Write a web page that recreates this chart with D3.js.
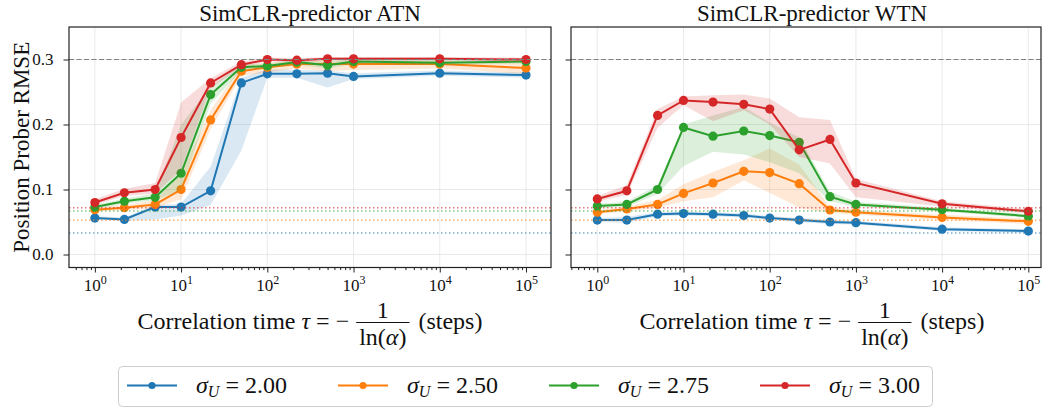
<!DOCTYPE html>
<meta charset="utf-8">
<head>
  <title>Position prober RMSE vs correlation time</title>
</head>
<style>
body { margin: 0; background: #fff; }
svg { display: block; }
</style>
<body>
<svg id="chart" width="1042" height="408"></svg>
<script src="https://cdnjs.cloudflare.com/ajax/libs/d3/7.8.5/d3.min.js"></script>
<script>
// ---- data ----
var tau = [1, 2.2, 5, 10, 22, 50, 100, 220, 500, 1000, 10000, 100000];
var sigmaLabels = ["2.00", "2.50", "2.75", "3.00"];
var colors = ["#1f77b4", "#ff7f0e", "#2ca02c", "#d62728"];
var baselines = [0.033, 0.0527, 0.067, 0.072];
var chanceLevel = 0.3;
var yTicks = [0.0, 0.1, 0.2, 0.3];
var xTicks = [1, 10, 100, 1000, 10000, 100000];

// ATN panel
var atn200   = [0.056, 0.054, 0.073, 0.073, 0.098, 0.264, 0.278, 0.278, 0.279, 0.274, 0.279, 0.276];
var atn200Lo = [0.053, 0.052, 0.054, 0.060, 0.076, 0.160, 0.272, 0.272, 0.257, 0.270, 0.275, 0.272];
var atn200Hi = [0.059, 0.057, 0.076, 0.078, 0.135, 0.272, 0.285, 0.284, 0.283, 0.279, 0.283, 0.280];
var atn250   = [0.069, 0.072, 0.077, 0.100, 0.207, 0.282, 0.288, 0.293, 0.293, 0.293, 0.293, 0.287];
var atn250Lo = [0.066, 0.068, 0.072, 0.085, 0.193, 0.275, 0.280, 0.286, 0.282, 0.284, 0.286, 0.278];
var atn250Hi = [0.073, 0.076, 0.083, 0.125, 0.222, 0.290, 0.295, 0.299, 0.299, 0.299, 0.298, 0.295];
var atn275   = [0.073, 0.082, 0.088, 0.125, 0.246, 0.288, 0.290, 0.296, 0.291, 0.297, 0.295, 0.297];
var atn275Lo = [0.070, 0.078, 0.083, 0.100, 0.232, 0.283, 0.286, 0.292, 0.286, 0.293, 0.291, 0.294];
var atn275Hi = [0.076, 0.086, 0.094, 0.200, 0.258, 0.293, 0.294, 0.300, 0.296, 0.301, 0.299, 0.300];
var atn300   = [0.080, 0.095, 0.100, 0.180, 0.264, 0.292, 0.300, 0.299, 0.301, 0.301, 0.301, 0.300];
var atn300Lo = [0.076, 0.090, 0.094, 0.130, 0.256, 0.288, 0.297, 0.296, 0.298, 0.298, 0.298, 0.297];
var atn300Hi = [0.085, 0.101, 0.110, 0.234, 0.271, 0.297, 0.303, 0.302, 0.304, 0.304, 0.304, 0.303];

// WTN panel
var wtn200   = [0.053, 0.053, 0.062, 0.063, 0.062, 0.060, 0.056, 0.053, 0.050, 0.049, 0.039, 0.036];
var wtn200Lo = [0.050, 0.049, 0.059, 0.060, 0.059, 0.057, 0.053, 0.050, 0.047, 0.046, 0.036, 0.033];
var wtn200Hi = [0.056, 0.058, 0.065, 0.066, 0.065, 0.063, 0.059, 0.056, 0.053, 0.052, 0.042, 0.039];
var wtn250   = [0.065, 0.070, 0.077, 0.094, 0.110, 0.128, 0.126, 0.109, 0.0685, 0.065, 0.057, 0.051];
var wtn250Lo = [0.062, 0.066, 0.072, 0.082, 0.088, 0.114, 0.095, 0.072, 0.064, 0.061, 0.053, 0.047];
var wtn250Hi = [0.068, 0.074, 0.084, 0.108, 0.127, 0.145, 0.163, 0.138, 0.073, 0.069, 0.061, 0.055];
var wtn275   = [0.0747, 0.077, 0.100, 0.1955, 0.182, 0.190, 0.183, 0.1725, 0.089, 0.077, 0.069, 0.059];
var wtn275Lo = [0.071, 0.073, 0.093, 0.136, 0.158, 0.154, 0.142, 0.125, 0.082, 0.073, 0.066, 0.056];
var wtn275Hi = [0.078, 0.081, 0.107, 0.200, 0.214, 0.227, 0.203, 0.180, 0.097, 0.081, 0.072, 0.062];
var wtn300   = [0.0855, 0.098, 0.214, 0.237, 0.2345, 0.231, 0.2237, 0.161, 0.177, 0.110, 0.078, 0.0665];
var wtn300Lo = [0.081, 0.092, 0.195, 0.230, 0.205, 0.222, 0.200, 0.150, 0.140, 0.088, 0.074, 0.063];
var wtn300Hi = [0.090, 0.107, 0.224, 0.243, 0.245, 0.246, 0.240, 0.211, 0.207, 0.116, 0.082, 0.070];

var panels = [
  { title: "SimCLR-predictor ATN", x0: 69, x1: 551, xDom: [Math.pow(10, -0.3), Math.pow(10, 5.29)], yLabels: true,
    series: [[atn200, atn200Lo, atn200Hi], [atn250, atn250Lo, atn250Hi], [atn275, atn275Lo, atn275Hi], [atn300, atn300Lo, atn300Hi]] },
  { title: "SimCLR-predictor WTN", x0: 571, x1: 1041, xDom: [Math.pow(10, -0.305), Math.pow(10, 5.147)], yLabels: false,
    series: [[wtn200, wtn200Lo, wtn200Hi], [wtn250, wtn250Lo, wtn250Hi], [wtn275, wtn275Lo, wtn275Hi], [wtn300, wtn300Lo, wtn300Hi]] }
];

var SERIF = "'Liberation Serif', 'DejaVu Serif', serif";
var plotTop = 27, plotBottom = 267.5;
var svg = d3.select("#chart");
svg.append("rect").attr("width", 1042).attr("height", 408).attr("fill", "#fff");

var y = d3.scaleLinear().domain([-0.02, 0.35]).range([plotBottom, plotTop]);

function serifText(sel, size) {
  return sel.append("text").attr("font-family", SERIF).style("font-family", SERIF)
    .attr("fill", "#111").style("font-size", size + "px");
}

function minorTicks(dom) {
  var out = [];
  for (var e = -1; e <= 5; e++) {
    for (var m = 2; m <= 9; m++) {
      var v = m * Math.pow(10, e);
      if (v >= dom[0] && v <= dom[1]) out.push(v);
    }
  }
  return out;
}

panels.forEach(function(p, pi) {
  var x = d3.scaleLog().domain(p.xDom).range([p.x0, p.x1]);
  var g = svg.append("g");

  var clipId = "clip" + pi;
  svg.append("clipPath").attr("id", clipId).append("rect")
    .attr("x", p.x0).attr("y", plotTop).attr("width", p.x1 - p.x0).attr("height", plotBottom - plotTop);

  // grid
  g.selectAll(".vg").data(xTicks).enter().append("line")
    .attr("x1", function(d) { return x(d); }).attr("x2", function(d) { return x(d); })
    .attr("y1", plotTop).attr("y2", plotBottom)
    .attr("stroke", "#d8d8d8").attr("stroke-opacity", 0.55).attr("stroke-width", 1);
  g.selectAll(".hg").data(yTicks).enter().append("line")
    .attr("x1", p.x0).attr("x2", p.x1)
    .attr("y1", function(d) { return y(d); }).attr("y2", function(d) { return y(d); })
    .attr("stroke", "#d8d8d8").attr("stroke-opacity", 0.55).attr("stroke-width", 1);

  var inner = g.append("g").attr("clip-path", "url(#" + clipId + ")");

  // bands and lines
  p.series.forEach(function(s, i) {
    var pts = tau.map(function(t, j) { return { t: t, m: s[0][j], lo: s[1][j], hi: s[2][j] }; });
    inner.append("path").datum(pts)
      .attr("d", d3.area().x(function(d) { return x(d.t); })
        .y0(function(d) { return y(d.lo); }).y1(function(d) { return y(d.hi); }))
      .attr("fill", colors[i]).attr("fill-opacity", 0.17);
    inner.append("path").datum(pts)
      .attr("d", d3.line().x(function(d) { return x(d.t); }).y(function(d) { return y(d.m); }))
      .attr("fill", "none").attr("stroke", colors[i]).attr("stroke-width", 2);
    inner.selectAll(null).data(pts).enter().append("circle")
      .attr("cx", function(d) { return x(d.t); }).attr("cy", function(d) { return y(d.m); })
      .attr("r", 4.6).attr("fill", colors[i]);
  });

  // baselines
  inner.selectAll(".bl").data(baselines).enter().append("line")
    .attr("x1", p.x0).attr("x2", p.x1)
    .attr("y1", function(d) { return y(d); }).attr("y2", function(d) { return y(d); })
    .attr("stroke", function(d, i) { return colors[i]; }).attr("stroke-opacity", 0.6)
    .attr("stroke-width", 1.5).attr("stroke-dasharray", "1.5,2.5");
  inner.append("line")
    .attr("x1", p.x0).attr("x2", p.x1).attr("y1", y(chanceLevel)).attr("y2", y(chanceLevel))
    .attr("stroke", "#808080").attr("stroke-width", 1.2).attr("stroke-dasharray", "5,2.5");

  // axes
  var xAxis = g.append("g").attr("transform", "translate(0," + plotBottom + ")")
    .call(d3.axisBottom(x).tickValues(xTicks).tickSize(5).tickFormat(""));
  g.append("g").attr("transform", "translate(0," + plotBottom + ")")
    .call(d3.axisBottom(x).tickValues(minorTicks(p.xDom)).tickSize(2.6).tickFormat(""));
  var yAxis = g.append("g").attr("transform", "translate(" + p.x0 + ",0)")
    .call(d3.axisLeft(y).tickValues(yTicks).tickSize(5.5).tickPadding(10)
      .tickFormat(p.yLabels ? d3.format(".1f") : ""));
  g.selectAll(".domain").remove();
  g.selectAll(".tick line").attr("stroke", "#222").attr("stroke-width", 1);
  yAxis.attr("font-family", SERIF);
  yAxis.selectAll("text").style("font-family", SERIF).style("font-size", "17px").attr("fill", "#111");

  xAxis.attr("font-family", SERIF);
  xAxis.selectAll(".tick").each(function(d) {
    var t = serifText(d3.select(this), 17).attr("y", 23.5).attr("text-anchor", "middle");
    t.append("tspan").text("10");
    t.append("tspan").attr("dy", -7).style("font-size", "12px").text(Math.round(Math.log10(d)));
  });

  // frame
  g.append("rect").attr("x", p.x0).attr("y", plotTop)
    .attr("width", p.x1 - p.x0).attr("height", plotBottom - plotTop)
    .attr("fill", "none").attr("stroke", "#222").attr("stroke-width", 1.2);

  // title
  var cx = (p.x0 + (pi === 0 ? p.x1 : 1053)) / 2;
  serifText(g, 23).attr("x", cx).attr("y", 21).attr("text-anchor", "middle").text(p.title);

  // x label: Correlation time tau = -1/ln(alpha) (steps)
  var lab = g.append("g");
  var t1 = serifText(lab, 24).attr("y", 329);
  t1.append("tspan").text("Correlation time ");
  t1.append("tspan").style("font-style", "italic").text("τ");
  t1.append("tspan").text(" = −");
  var w1 = t1.node().getComputedTextLength();
  var num = serifText(lab, 24).attr("y", 318).attr("text-anchor", "middle").text("1");
  var den = serifText(lab, 24).attr("y", 345).attr("text-anchor", "middle");
  den.append("tspan").text("ln(");
  den.append("tspan").style("font-style", "italic").text("α");
  den.append("tspan").text(")");
  var wf = den.node().getComputedTextLength() + 6;
  var t2 = serifText(lab, 24).attr("y", 329).text("(steps)");
  var w2 = t2.node().getComputedTextLength();
  var total = w1 + 7 + wf + 9 + w2;
  var sx = cx - total / 2;
  t1.attr("x", sx);
  var fx = sx + w1 + 7;
  num.attr("x", fx + wf / 2);
  den.attr("x", fx + wf / 2);
  lab.append("line").attr("x1", fx).attr("x2", fx + wf).attr("y1", 322.5).attr("y2", 322.5)
    .attr("stroke", "#111").attr("stroke-width", 1.1);
  t2.attr("x", fx + wf + 9);
});

// y label
serifText(svg, 23)
  .attr("transform", "translate(29," + ((plotTop + plotBottom) / 2) + ") rotate(-90)")
  .attr("text-anchor", "middle").text("Position Prober RMSE");

// legend
var leg = svg.append("g");
leg.append("rect").attr("x", 118.5).attr("y", 366.5).attr("width", 814).attr("height", 40).attr("rx", 4)
  .attr("fill", "#fff").attr("stroke", "#cccccc").attr("stroke-width", 1);
sigmaLabels.forEach(function(s, i) {
  var lx = 127 + i * 211;
  var item = leg.append("g");
  item.append("line").attr("x1", lx).attr("x2", lx + 50).attr("y1", 385.5).attr("y2", 385.5)
    .attr("stroke", colors[i]).attr("stroke-width", 2);
  item.append("circle").attr("cx", lx + 25).attr("cy", 385.5).attr("r", 3.6).attr("fill", colors[i]);
  var t = serifText(item, 24).attr("x", lx + 69).attr("y", 393);
  t.append("tspan").style("font-style", "italic").text("σ");
  t.append("tspan").style("font-style", "italic").style("font-size", "16px").attr("dy", 4).text("U");
  t.append("tspan").attr("dy", -4).text(" = " + s);
});
</script>
</body>
</html>
